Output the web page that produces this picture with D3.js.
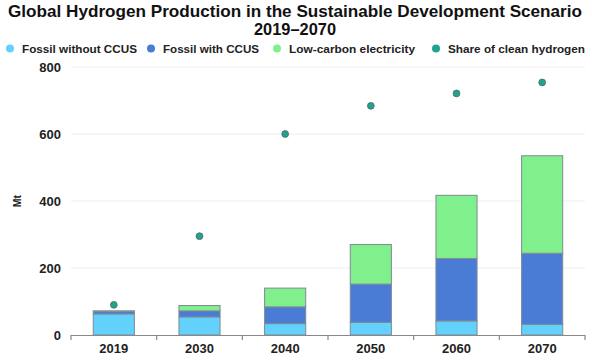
<!DOCTYPE html>
<html><head><meta charset="utf-8">
<script src="https://cdn.jsdelivr.net/npm/d3@7"></script>
<style>body{margin:0;background:#fff}svg{display:block;font-family:"Liberation Sans",Arial,sans-serif}</style>
</head><body><svg id="c" width="592" height="360"></svg>
<script>
const years = ["2019","2030","2040","2050","2060","2070"];
const fossilWithout = [63, 54, 34, 38, 42, 32];
const fossilWith = [8, 18, 50, 114, 186, 212];
const lowCarbon = [1, 16, 56, 118, 189, 291];
const shareClean = [90, 295, 600, 684, 721, 754];
const yTicks = [0, 200, 400, 600, 800];
const seriesNames = ["Fossil without CCUS","Fossil with CCUS","Low-carbon electricity","Share of clean hydrogen"];
const colors = ["#62d2fd","#4a7bd5","#7ff08c","#22a38f"];

const svg = d3.select("#c");
const x = d3.scaleBand().domain(years).range([71,585]).paddingInner(0.52).paddingOuter(0.26);
const y = d3.scaleLinear().domain([0,800]).range([335,67]);

// title
svg.append("text").attr("x",295).attr("y",17).attr("text-anchor","middle")
  .attr("font-weight","bold").attr("font-size",16.5).attr("fill","#111")
  .attr("textLength",574).attr("lengthAdjust","spacingAndGlyphs")
  .text("Global Hydrogen Production in the Sustainable Development Scenario");
svg.append("text").attr("x",295).attr("y",34.5).attr("text-anchor","middle")
  .attr("font-weight","bold").attr("font-size",16.5).attr("fill","#111")
  .attr("textLength",82).attr("lengthAdjust","spacingAndGlyphs")
  .text("2019\u20132070");

// legend
const legX = [10,151,277,436];
const legW = [115,96,126,137];
seriesNames.forEach((n,i)=>{
  svg.append("circle").attr("cx",legX[i]).attr("cy",48.5).attr("r",4).attr("fill",colors[i]);
  svg.append("text").attr("x",legX[i]+12).attr("y",52.5).attr("font-size",11.5).attr("font-weight","bold")
    .attr("fill","#222").attr("textLength",legW[i]).attr("lengthAdjust","spacingAndGlyphs").text(n);
});

// grid
svg.append("g").selectAll("line").data(yTicks.filter(d=>d>0)).join("line")
  .attr("x1",71).attr("x2",585).attr("y1",d=>y(d)).attr("y2",d=>y(d))
  .attr("stroke","#eeeeee").attr("stroke-width",1.2);

// y labels
svg.append("g").selectAll("text").data(yTicks).join("text")
  .attr("x",61).attr("y",d=>y(d)+4.5).attr("text-anchor","end")
  .attr("font-size",13).attr("font-weight","bold").attr("fill","#222").text(d=>d);
svg.append("text").attr("transform","translate(21,201) rotate(-90)").attr("text-anchor","middle")
  .attr("font-size",10.5).attr("font-weight","bold").attr("fill","#222").text("Mt");

// stacked bars
const rows = years.map((yr,i)=>({year:yr, a:fossilWithout[i], b:fossilWith[i], c:lowCarbon[i]}));
const stack = d3.stack().keys(["a","b","c"])(rows);
svg.append("g").selectAll("g").data(stack).join("g").attr("fill",(d,i)=>colors[i])
  .selectAll("rect").data(d=>d).join("rect")
  .attr("x",d=>x(d.data.year)).attr("width",x.bandwidth())
  .attr("y",d=>y(d[1])).attr("height",d=>y(d[0])-y(d[1]))
  .attr("stroke","#7f8a95").attr("stroke-width",1);

// x axis
const xa = svg.append("g");
xa.append("line").attr("x1",71).attr("x2",585).attr("y1",335.5).attr("y2",335.5).attr("stroke","#888").attr("stroke-width",1.2);
const edges = years.map(d=>x(d)-x.step()*x.paddingInner()/2).concat([585]);
edges[0]=71;
xa.selectAll(".tk").data(edges).join("line").attr("class","tk")
  .attr("x1",d=>d).attr("x2",d=>d).attr("y1",335).attr("y2",340).attr("stroke","#888").attr("stroke-width",1.2);
xa.selectAll("text").data(years).join("text")
  .attr("x",d=>x(d)+x.bandwidth()/2).attr("y",353).attr("text-anchor","middle")
  .attr("font-size",13).attr("font-weight","bold").attr("fill","#222").text(d=>d);

// dots
svg.append("g").selectAll("circle").data(years).join("circle")
  .attr("cx",d=>x(d)+x.bandwidth()/2).attr("cy",(d,i)=>y(shareClean[i])).attr("r",3.4)
  .attr("fill",colors[3]).attr("stroke","#4a6b66").attr("stroke-width",0.8);
</script></body></html>
